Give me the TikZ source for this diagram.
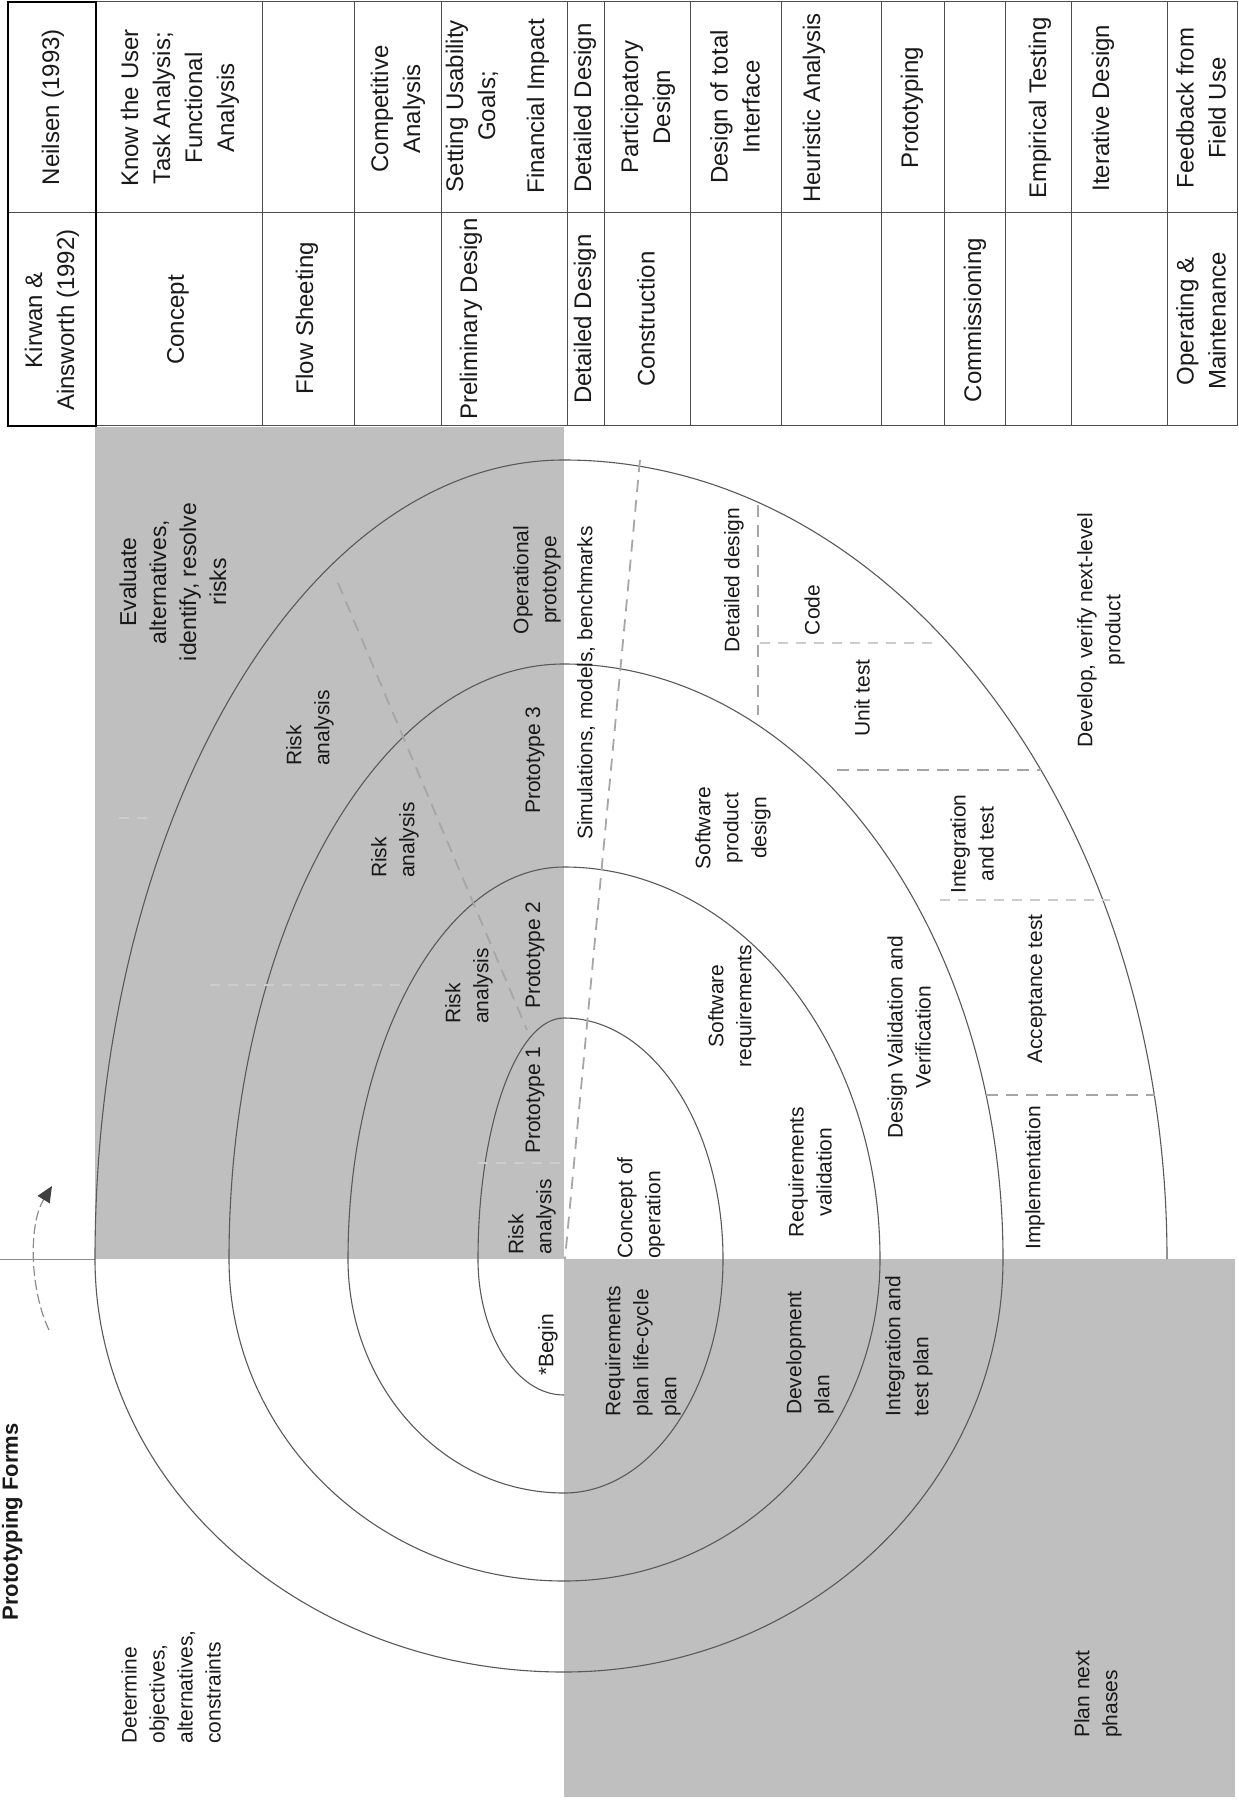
\documentclass[tikz,border=0pt]{standalone}
\usepackage{fontspec}
\setmainfont{Liberation Sans}
\usepackage{tikz}
\usetikzlibrary{arrows.meta}

\begin{document}
\begin{tikzpicture}[x=0.5pt, y=-0.5pt, >=Stealth,
    every node/.style={font=\fontsize{10.5}{14}\selectfont, rotate=90, inner sep=0pt, text=black!90},
    cell/.style={font=\fontsize{12}{16}\selectfont, align=center},
    txt/.style={align=center},
    txtl/.style={align=left},
    ring/.style={draw=black!65, line width=0.55pt},
    cut/.style={draw=black!35, line width=0.9pt, dash pattern=on 6pt off 4pt},
    faint/.style={draw=black!20, line width=0.8pt, dash pattern=on 5pt off 4pt},
    rule/.style={draw=black!70, line width=0.5pt}]

  \useasboundingbox (0,0) rectangle (1238,1802);

  % Quadrants
  \fill[black!25] (95,427) rectangle (564,1259);
  \fill[black!25] (564,1259) rectangle (1235,1797);
  \draw[draw=black!45, line width=0.5pt] (0,1259) -- (95,1259);

  % Table of phases
  \draw[rule] (8,2) rectangle (1237,426);
  \draw[rule] (8,213) -- (1237,213);
  \foreach \x in {262,354,441,567,604,690,781,881,944,1005,1071,1167}
    \draw[rule] (\x,2) -- (\x,426);
  \draw[line width=1.1pt] (8,2) rectangle (96,426);

  \node[cell] (kHead) at (52,320) {Kirwan \&\\Ainsworth (1992)};
  \node[cell] (nHead) at (53,107) {Neilsen (1993)};
  \node[cell] (kConcept) at (178,320) {Concept};
  \node[cell] (nUser) at (180,108) {Know the User\\Task Analysis;\\Functional\\Analysis};
  \node[cell] (kFlow) at (307,318) {Flow Sheeting};
  \node[cell] (nCompet) at (398,109) {Competitive\\Analysis};
  \node[cell] (kPrelim) at (471,319) {Preliminary Design};
  \node[cell] (nGoals) at (472,106) {Setting Usability\\Goals;};
  \node[cell] (nFinance) at (538,106) {Financial Impact};
  \node[cell] (kDetail) at (585,319) {Detailed Design};
  \node[cell] (nDetail) at (585,108) {Detailed Design};
  \node[cell] (kBuild) at (646,319) {Construction};
  \node[cell] (nPartic) at (648,107) {Participatory\\Design};
  \node[cell] (nTotal) at (735,107) {Design of total\\Interface};
  \node[cell] (nHeur) at (814,108) {Heuristic Analysis};
  \node[cell] (nProto) at (912,108) {Prototyping};
  \node[cell] (kCommis) at (975,320) {Commissioning};
  \node[cell] (nEmpir) at (1040,108) {Empirical Testing};
  \node[cell] (nIter) at (1103,108) {Iterative Design};
  \node[cell] (kOper) at (1201,321) {Operating \&\\Maintenance};
  \node[cell] (nField) at (1201,108) {Feedback from\\Field Use};

  % Spiral, one quarter ellipse at a time
  \foreach \l/\u/\r/\d/\dn in {86/241/159/136/234, 216/392/316/234/322, 335/595/439/322/413} {
    \draw[ring] (564,1259+\d)
      arc[start angle=90, end angle=180, x radius=\l, y radius=\d]
      arc[start angle=180, end angle=270, x radius=\l, y radius=\u]
      arc[start angle=270, end angle=360, x radius=\r, y radius=\u]
      arc[start angle=0, end angle=90, x radius=\r, y radius=\dn];
  }
  \draw[ring] (564,1672)
    arc[start angle=90, end angle=180, x radius=469, y radius=413]
    arc[start angle=180, end angle=270, x radius=469, y radius=799]
    arc[start angle=270, end angle=360, x radius=603, y radius=799];

  % Dividers
  \draw[cut] (338,583) -- (527,1030);
  \draw[faint] (478,1163) -- (564,1163);
  \draw[faint] (210,985) -- (400,985);
  \draw[faint] (119,818) -- (154,818);
  \draw[cut] (640,460) -- (565,1259);
  \draw[cut] (758,505) -- (758,715);
  \draw[faint] (760,643) -- (935,643);
  \draw[cut] (837,770) -- (1041,770);
  \draw[faint] (940,900) -- (1110,900);
  \draw[cut] (986,1095) -- (1155,1095);

  % Direction of the spiral
  \coordinate (turnA) at (49,1330);
  \coordinate (turnB) at (52,1186);
  \draw[draw=black!45, dash pattern=on 5pt off 2pt, line width=0.6pt,
        -{Triangle[length=8pt,width=7pt,color=black!75]}] (turnA) .. controls (30,1290) and (28,1225) .. (turnB);

  % Title
  \node[font=\bfseries\fontsize{11}{13}\selectfont, anchor=base] (title) at (18,1522) {Prototyping Forms};

  % Evaluate quadrant
  \node[txt, font=\fontsize{11.5}{15}\selectfont] (evalq) at (173,582) {Evaluate\\alternatives,\\identify, resolve\\risks};
  \node[txtl] (riskD) at (310,728) {Risk\\analysis};
  \node[txtl] (riskC) at (395,840) {Risk\\analysis};
  \node[txtl] (riskB) at (469,986) {Risk\\analysis};
  \node[txtl] (riskA) at (532,1217) {Risk\\analysis};
  \node (protoA) at (535,1100) {Prototype 1};
  \node (protoB) at (535,955) {Prototype 2};
  \node (protoC) at (535,760) {Prototype 3};
  \node[txt] (protoOp) at (537,580) {Operational\\prototype};

  % Develop quadrant
  \node (simul) at (586,683) {Simulations, models, benchmarks};
  \node (detail) at (734,580) {Detailed design};
  \node (code) at (812,610) {Code};
  \node (unit) at (862,698) {Unit test};
  \node[txt] (prodDes) at (733,828) {Software\\product\\design};
  \node[txt] (integ) at (972,844) {Integration\\and test};
  \node[txt] (softReq) at (732,1006) {Software\\requirements};
  \node[txt] (dvv) at (909,1037) {Design Validation and\\Verification};
  \node (accept) at (1037,989) {Acceptance test};
  \node (implem) at (1035,1178) {Implementation};
  \node[txt] (develop) at (1101,630) {Develop, verify next-level\\product};
  \node[txtl] (concOp) at (641,1208) {Concept of\\operation};
  \node[txt] (reqVal) at (810,1172) {Requirements\\validation};

  % Determine quadrant
  \node (begin) at (548,1345) {*Begin};
  \node[txtl] (determ) at (171,1687) {Determine\\objectives,\\alternatives,\\constraints};

  % Plan quadrant
  \node[txtl] (reqPlan) at (643,1351) {Requirements\\plan life-cycle\\plan};
  \node[txtl] (devPlan) at (810,1353) {Development\\plan};
  \node[txtl] (itPlan) at (909,1346) {Integration and\\test plan};
  \node[txtl] (planNext) at (1098,1694) {Plan next\\phases};
\end{tikzpicture}
\end{document}
